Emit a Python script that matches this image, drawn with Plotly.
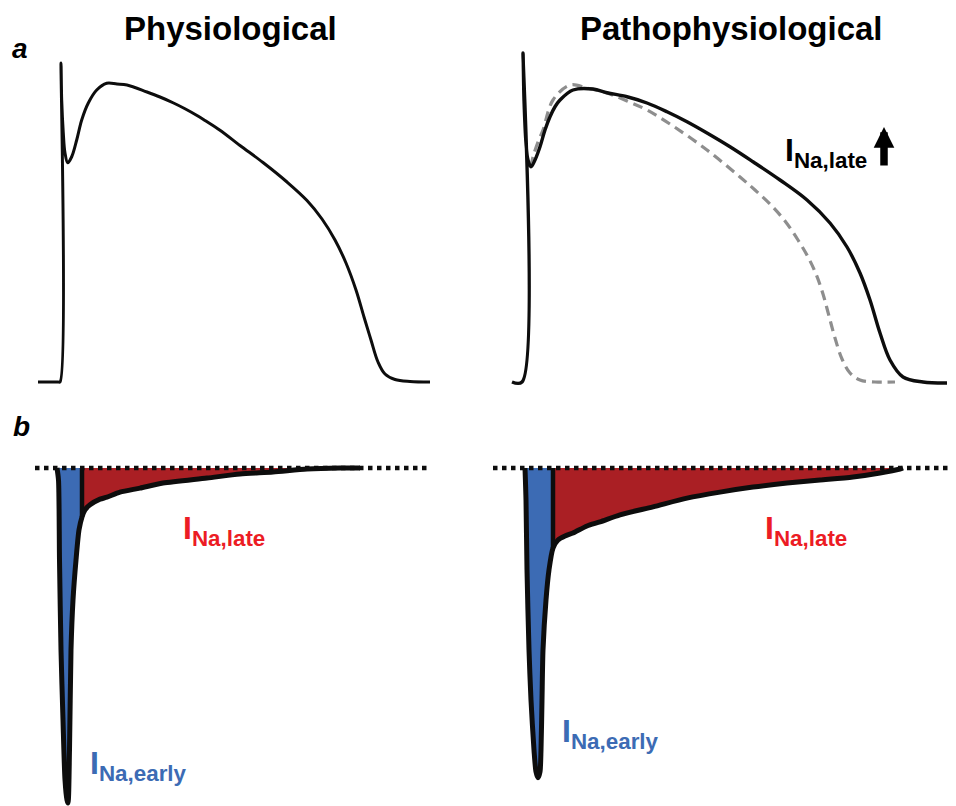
import plotly.graph_objects as go

# ---------------- data ----------------
# Panel a: action potentials (time in ms from upstroke, membrane potential in mV)
ap_phys_t = [-22, -2, 0, 1, 1.7, 3.3, 5, 7.7, 11.7, 16.7, 21.7, 28.3, 36.7, 46.7, 57, 67,
             87, 100, 113, 125, 137, 145, 160, 180, 203, 227, 247, 262, 275, 286, 296, 304, 311,
             318, 325, 335, 350, 370]
ap_phys_v = [-85, -85, -85, 42.6, 27.8, 14.6, 6.6, 2.7, 5.1, 11.8, 19.8, 26.6, 31.8, 34.5, 34.2, 33.8,
             31.0, 29.0, 26.7, 24.3, 21.6, 19.6, 15.7, 9.6, 2.8, -5.0, -12.4, -19.8, -28.2, -37.4,
             -48.2, -59.0, -68.2, -77.0, -81.8, -84.0, -84.8, -85.0]

ap_patho_t = [-10, 0, 1, 2, 4, 6, 9, 13, 18, 23, 28, 33, 38, 51, 71, 85, 105, 125, 145, 165, 185,
              208, 231, 258, 285, 308, 325, 338, 348, 358, 368, 381, 401, 425]
ap_patho_v = [-85, -85, 46.6, 27.8, 10.6, 3.8, 1.1, 3.8, 9.1, 15.8, 21.1, 25.1, 27.8, 31.8, 32.2, 30.7,
              29.1, 26.6, 23.1, 19.1, 14.6, 9.1, 3.1, -4.2, -12.2, -21.4, -31.0, -41.4, -52.2, -65.4,
              -76.2, -83.0, -85.0, -85.4]

ap_ctrl_t = [9, 11, 16, 21, 31, 48, 65, 85, 105, 125, 151, 185, 218, 233, 248, 263, 276, 286, 294,
             301, 307, 313, 320, 328, 338, 353, 373]
ap_ctrl_v = [1.1, 5.0, 11.0, 15.8, 27.8, 33.8, 32.6, 30.6, 27.4, 23.8, 17.4, 7.8, -3.0, -8.2, -13.8,
             -20.6, -28.2, -35.0, -41.8, -49.8, -58.6, -67.4, -75.8, -81.4, -84.2, -85.0, -85.0]

# Panel b: sodium currents (time in ms, normalised current)
ina_phys_t = [0, 1.5, 2.5, 4, 6, 8, 10, 11, 12.5, 14, 16, 19, 22, 25, 28, 33, 43, 50, 63, 83, 106,
              150, 183, 216, 250, 283, 303]
ina_phys_i = [0, -0.036, -0.275, -0.543, -0.752, -0.931, -0.991, -1.0, -0.842, -0.543, -0.394, -0.275,
              -0.185, -0.146, -0.125, -0.110, -0.093, -0.087, -0.072, -0.060, -0.045, -0.030, -0.018,
              -0.012, -0.003, 0.0, 0.0]
ina_phys_split = 25

ina_patho_t = [0, 1, 2, 4, 6, 9, 11, 13, 15, 16, 17, 18, 21, 24, 28, 33, 40, 48, 62, 75, 95, 128,
               162, 195, 228, 262, 295, 328, 355, 375, 378]
ina_patho_i = [0, -0.096, -0.304, -0.543, -0.693, -0.842, -0.907, -0.925, -0.907, -0.842, -0.693,
               -0.543, -0.394, -0.304, -0.239, -0.215, -0.203, -0.194, -0.173, -0.161, -0.140, -0.116,
               -0.090, -0.072, -0.057, -0.045, -0.036, -0.027, -0.015, -0.003, 0.0]
ina_patho_split = 28

zero_phys_t = [-22, 373]
zero_patho_t = [-32, 431]

titles = ["Physiological", "Pathophysiological"]

BLUE = "#3c6bb4"
RED_FILL = "#aa1f24"
RED_TEXT = "#ec1c24"
BLACK = "#0d0d0d"

W, H = 956, 806
OFF = 8  # page body margin


def px(x):
    return (x - OFF) / W


def py(y):
    return 1 - (y - OFF) / H


fig = go.Figure()

# ---- panel a ----
AP_SP = dict(shape="spline", smoothing=1.0)
fig.add_trace(go.Scatter(x=ap_phys_t, y=ap_phys_v, mode="lines",
                         line=dict(color=BLACK, width=3, **AP_SP),
                         xaxis="x", yaxis="y"))
fig.add_trace(go.Scatter(x=ap_ctrl_t, y=ap_ctrl_v, mode="lines",
                         line=dict(color="#8e8e8e", width=3.2, dash="10px,6px", **AP_SP),
                         xaxis="x2", yaxis="y2"))
fig.add_trace(go.Scatter(x=ap_patho_t, y=ap_patho_v, mode="lines",
                         line=dict(color=BLACK, width=3.4, **AP_SP),
                         xaxis="x2", yaxis="y2"))


# ---- panel b ----
def current_traces(t, i, split, zt, xa, ya):
    k = t.index(split)
    sp = dict(shape="spline", smoothing=0.7)
    fig.add_trace(go.Scatter(x=t[:k + 1], y=i[:k + 1], mode="lines", fill="tozeroy",
                             fillcolor=BLUE, line=dict(width=0, color=BLUE, **sp), xaxis=xa, yaxis=ya))
    fig.add_trace(go.Scatter(x=t[k:], y=i[k:], mode="lines", fill="tozeroy",
                             fillcolor=RED_FILL, line=dict(width=0, color=RED_FILL, **sp), xaxis=xa, yaxis=ya))
    fig.add_trace(go.Scatter(x=zt, y=[0, 0], mode="lines",
                             line=dict(color=BLACK, width=4.5, dash="dot"), xaxis=xa, yaxis=ya))
    fig.add_trace(go.Scatter(x=t, y=i, mode="lines",
                             line=dict(color=BLACK, width=5, **sp), xaxis=xa, yaxis=ya))
    fig.add_trace(go.Scatter(x=[split, split], y=[0, i[k]], mode="lines",
                             line=dict(color=BLACK, width=4.5), xaxis=xa, yaxis=ya))


current_traces(ina_phys_t, ina_phys_i, ina_phys_split, zero_phys_t, "x3", "y3")
current_traces(ina_patho_t, ina_patho_i, ina_patho_split, zero_patho_t, "x4", "y4")

# ---- axes (screen-pixel calibrated) ----
SPLIT_Y = 420
top_dom = [py(SPLIT_Y), 1]
bot_dom = [0, py(SPLIT_Y)]
v_range = [-85 + (382 - SPLIT_Y) * 0.4, -85 + (382 - OFF) * 0.4]
i_range = [-(OFF + H - 468) / 335, -(SPLIT_Y - 468) / 335]
mid_x = OFF + W / 2


def xr(x0, left):
    if left:
        return [OFF - x0, mid_x - x0]
    return [mid_x - x0, OFF + W - x0]


ax = dict(visible=False, showgrid=False, zeroline=False, fixedrange=True)

fig.update_layout(
    width=W, height=H,
    margin=dict(l=0, r=0, t=0, b=0, pad=0),
    paper_bgcolor="white", plot_bgcolor="white",
    showlegend=False,
    xaxis=dict(ax, domain=[0, 0.5], range=xr(60, True), anchor="y"),
    yaxis=dict(ax, domain=top_dom, range=v_range, anchor="x"),
    xaxis2=dict(ax, domain=[0.5, 1], range=xr(522, False), anchor="y2"),
    yaxis2=dict(ax, domain=top_dom, range=v_range, anchor="x2"),
    xaxis3=dict(ax, domain=[0, 0.5], range=xr(57, True), anchor="y3"),
    yaxis3=dict(ax, domain=bot_dom, range=i_range, anchor="x3"),
    xaxis4=dict(ax, domain=[0.5, 1], range=xr(525, False), anchor="y4"),
    yaxis4=dict(ax, domain=bot_dom, range=i_range, anchor="x4"),
)

FONT = "Liberation Sans, Arial, sans-serif"
ann = []
ann.append(dict(text="<b>" + titles[0] + "</b>", x=px(230), y=py(29), xref="paper", yref="paper",
                xanchor="center", yanchor="middle", showarrow=False,
                font=dict(family=FONT, size=33, color="black")))
ann.append(dict(text="<b>" + titles[1] + "</b>", x=px(731), y=py(29), xref="paper", yref="paper",
                xanchor="center", yanchor="middle", showarrow=False,
                font=dict(family=FONT, size=33, color="black")))
ann.append(dict(text="<b><i>a</i></b>", x=px(20), y=py(49), xref="paper", yref="paper",
                xanchor="center", yanchor="middle", showarrow=False,
                font=dict(family=FONT, size=28, color="black")))
ann.append(dict(text="<b><i>b</i></b>", x=px(21), y=py(426), xref="paper", yref="paper",
                xanchor="center", yanchor="middle", showarrow=False,
                font=dict(family=FONT, size=28, color="black")))
# labels
ann.append(dict(text="<b>I<sub>Na,late</sub></b>", x=px(783), y=py(153), xref="paper", yref="paper",
                xanchor="left", yanchor="middle", showarrow=False,
                font=dict(family=FONT, size=32, color="black")))
ann.append(dict(text="", x=px(884), y=py(127), xref="paper", yref="paper",
                ax=0, ay=40, axref="pixel", ayref="pixel", showarrow=True,
                arrowhead=2, arrowwidth=7.5, arrowsize=0.55, arrowcolor="black"))
ann.append(dict(text="<b>I<sub>Na,late</sub></b>", x=px(181), y=py(530), xref="paper", yref="paper",
                xanchor="left", yanchor="middle", showarrow=False,
                font=dict(family=FONT, size=32, color=RED_TEXT)))
ann.append(dict(text="<b>I<sub>Na,late</sub></b>", x=px(763), y=py(530), xref="paper", yref="paper",
                xanchor="left", yanchor="middle", showarrow=False,
                font=dict(family=FONT, size=32, color=RED_TEXT)))
ann.append(dict(text="<b>I<sub>Na,early</sub></b>", x=px(88), y=py(765), xref="paper", yref="paper",
                xanchor="left", yanchor="middle", showarrow=False,
                font=dict(family=FONT, size=32, color=BLUE)))
ann.append(dict(text="<b>I<sub>Na,early</sub></b>", x=px(560), y=py(733), xref="paper", yref="paper",
                xanchor="left", yanchor="middle", showarrow=False,
                font=dict(family=FONT, size=32, color=BLUE)))
fig.update_layout(annotations=ann)

fig.write_html("out.html")
